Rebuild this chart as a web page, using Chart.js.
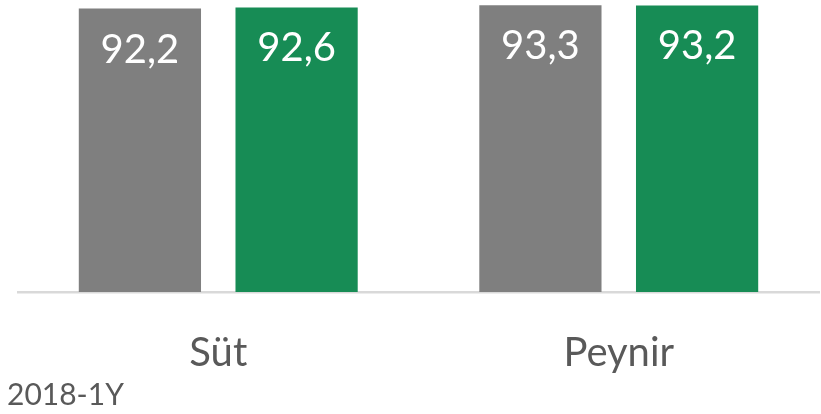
<!DOCTYPE html>
<html>
<head>
<meta charset="utf-8">
<script src="https://cdn.jsdelivr.net/npm/chart.js@4/dist/chart.umd.min.js"></script>
<style>
  html, body { margin: 0; padding: 0; background: #ffffff; }
  #wrap { width: 821px; height: 414px; }
</style>
</head>
<body>
<div id="wrap"><canvas id="c" width="821" height="414"></canvas></div>
<script>
const categories = ["Süt", "Peynir"];
const seriesNames = ["2018-1Y", "2019-1Y"];
const series2018 = [92.2, 93.3];
const series2019 = [92.6, 93.2];

const valueLabels = {
  id: 'valueLabels',
  afterDatasetsDraw(chart) {
    const ctx = chart.ctx;
    ctx.save();
    ctx.fillStyle = '#ffffff';
    ctx.font = '40px Lato';
    ctx.textAlign = 'center';
    ctx.textBaseline = 'middle';
    chart.data.datasets.forEach((ds, di) => {
      chart.getDatasetMeta(di).data.forEach((bar, i) => {
        const txt = ds.data[i].toFixed(1).replace('.', ',');
        ctx.fillText(txt, bar.x, bar.y + 41);
      });
    });
    ctx.restore();
  }
};

new Chart(document.getElementById('c'), {
  type: 'bar',
  data: {
    labels: categories,
    datasets: [
      { label: seriesNames[0], data: series2018, backgroundColor: '#7f7f7f',
        barPercentage: 0.78, categoryPercentage: 0.7825 },
      { label: seriesNames[1], data: series2019, backgroundColor: '#178c55',
        barPercentage: 0.78, categoryPercentage: 0.7825 }
    ]
  },
  options: {
    responsive: false,
    animation: false,
    layout: { padding: { left: 7, right: 2, top: 0, bottom: 0 } },
    plugins: {
      legend: { display: false },
      tooltip: { enabled: false },
      subtitle: {
        display: true,
        text: seriesNames[0],
        position: 'bottom',
        align: 'start',
        color: '#595959',
        font: { family: 'Lato', size: 30, weight: 'normal' },
        padding: { top: 0, bottom: 1 }
      }
    },
    scales: {
      x: {
        grid: { display: false, drawTicks: false },
        border: { display: true, color: '#d9d9d9', width: 2.5 },
        ticks: { color: '#595959', font: { family: 'Lato', size: 40 }, padding: 37 },
        afterFit(s) { s.height = 85; }
      },
      y: {
        display: true,
        min: 0, max: 95,
        grid: { display: false, drawTicks: false },
        border: { display: false },
        ticks: { display: false },
        afterFit(s) { s.width = 11; }
      }
    }
  },
  plugins: [valueLabels]
});
</script>
</body>
</html>
